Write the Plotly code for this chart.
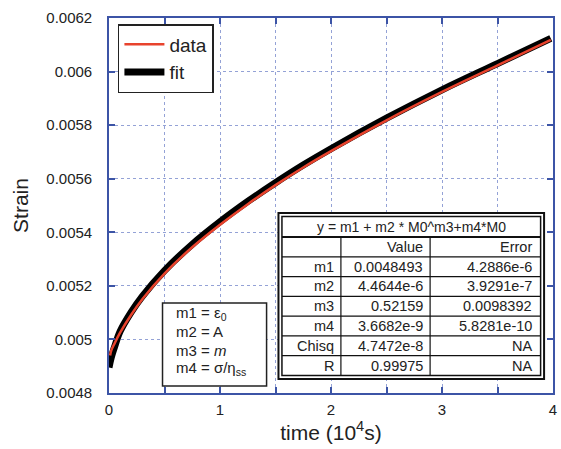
import plotly.graph_objects as go

# ---------------- data ----------------
time_data = [0.01, 0.02, 0.05, 0.1, 0.2, 0.3, 0.5, 0.75, 1.0, 1.25, 1.5, 1.75, 2.0, 2.5, 3.0, 3.5, 3.98]
strain_data = [0.004940, 0.004958, 0.004985, 0.005025, 0.005092, 0.005150, 0.005246, 0.005344,
               0.005428, 0.005505, 0.005576, 0.005642, 0.005703, 0.005818, 0.005924, 0.006023, 0.006118]

time_fit = [0.0, 0.02, 0.05, 0.1, 0.2, 0.3, 0.5, 0.75, 1.0, 1.25, 1.5, 1.75, 2.0, 2.5, 3.0, 3.5, 3.98]
strain_fit = [0.004895, 0.004932, 0.004972, 0.005030, 0.005102, 0.005161, 0.005257, 0.005355,
              0.005439, 0.005515, 0.005585, 0.005651, 0.005712, 0.005826, 0.005932, 0.006030, 0.006124]

x_tickvals = [0, 1, 2, 3, 4]
x_ticktext = ["0", "1", "2", "3", "4"]
y_tickvals = [0.0048, 0.0050, 0.0052, 0.0054, 0.0056, 0.0058, 0.0060, 0.0062]
y_ticktext = ["0.0048", "0.005", "0.0052", "0.0054", "0.0056", "0.0058", "0.006", "0.0062"]

table_title = "y = m1 + m2 * M0^m3+m4*M0"
table_columns = ["", "Value", "Error"]
table_rows = ["m1", "m2", "m3", "m4", "Chisq", "R"]
table_values = ["0.0048493", "4.4644e-6", "0.52159", "3.6682e-9", "4.7472e-8", "0.99975"]
table_errors = ["4.2886e-6", "3.9291e-7", "0.0098392", "5.8281e-10", "NA", "NA"]

param_lines = ["m1 = ε<sub>0</sub>", "m2 = A", "m3 = <i>m</i>", "m4 = σ/η<sub>ss</sub>"]

# ---------------- layout geometry (pixels) ----------------
W, H = 561, 449
L, R, T, B = 109, 557, 18, 393


def px(x):
    return (x - L) / (R - L)


def py(y):
    return (B - y) / (B - T)


FONT = "Liberation Sans, Arial, Helvetica, sans-serif"
AXIS_BLUE = "#3c54a6"
GRID = "#94a2d6"
TXT = "#222222"

fig = go.Figure()
fig.add_trace(go.Scatter(x=time_fit, y=strain_fit, mode="lines", name="fit",
                         line=dict(color="#000000", width=7, shape="spline"),
                         legendrank=2))
fig.add_trace(go.Scatter(x=time_data, y=strain_data, mode="lines", name="data",
                         line=dict(color="#e8432d", width=2.5, shape="spline"),
                         legendrank=1))

axis_common = dict(showline=True, linecolor=AXIS_BLUE, linewidth=1.6, mirror="ticks",
                   ticks="inside", ticklen=6, tickwidth=1.5, tickcolor=AXIS_BLUE,
                   showgrid=True, gridcolor=GRID, griddash="dot", gridwidth=1,
                   zeroline=False, tickfont=dict(family=FONT, size=15, color=TXT))

fig.update_xaxes(range=[0, 4], tickmode="array", tickvals=x_tickvals, ticktext=x_ticktext,
                 minor=dict(dtick=0.5, ticks="inside", ticklen=6, tickwidth=1.5, tickcolor=AXIS_BLUE,
                            showgrid=True, gridcolor=GRID, griddash="dot", gridwidth=1),
                 title=dict(text="time (10<sup>4</sup>s)", font=dict(family=FONT, size=21, color=TXT),
                            standoff=4),
                 ticklabelstandoff=2, **axis_common)
fig.update_yaxes(range=[0.0048, 0.0062], tickmode="array", tickvals=y_tickvals, ticktext=y_ticktext,
                 title=dict(text="Strain", font=dict(family=FONT, size=21, color=TXT), standoff=12),
                 ticklabelstandoff=12, **axis_common)

shapes = []
annotations = []

# ---- parameter box ----
bx0, by0, bx1, by1 = 163, 303, 268, 386
shapes.append(dict(type="rect", xref="paper", yref="paper", x0=px(bx0), x1=px(bx1), y0=py(by1), y1=py(by0),
                   line=dict(color="#222222", width=1.5), fillcolor="white"))
for i, t in enumerate(param_lines):
    annotations.append(dict(xref="paper", yref="paper", x=px(175), y=py(313 + i * 18.5), text=t,
                            showarrow=False, xanchor="left", yanchor="middle",
                            font=dict(family=FONT, size=15, color=TXT)))

# ---- fit table ----
ox0, oy0, ox1, oy1 = 280, 213, 548, 379
ix0, iy0, ix1, iy1 = 283.5, 216.5, 544.5, 375.5
shapes.append(dict(type="rect", xref="paper", yref="paper", x0=px(ox0), x1=px(ox1), y0=py(oy1), y1=py(oy0),
                   line=dict(color="#111111", width=2), fillcolor="white"))
shapes.append(dict(type="rect", xref="paper", yref="paper", x0=px(ix0), x1=px(ix1), y0=py(iy1), y1=py(iy0),
                   line=dict(color="#111111", width=1.5), fillcolor="white"))
head_bottom = 237
nrows = len(table_rows) + 1
row_h = (iy1 - head_bottom) / nrows
shapes.append(dict(type="line", xref="paper", yref="paper", x0=px(ix0), x1=px(ix1),
                   y0=py(head_bottom), y1=py(head_bottom), line=dict(color="#111111", width=2)))
for k in range(1, nrows):
    yy = head_bottom + k * row_h
    shapes.append(dict(type="line", xref="paper", yref="paper", x0=px(ix0), x1=px(ix1),
                       y0=py(yy), y1=py(yy), line=dict(color="#111111", width=1.2)))
col_edges = [343, 433]
for cx in col_edges:
    shapes.append(dict(type="line", xref="paper", yref="paper", x0=px(cx), x1=px(cx),
                       y0=py(head_bottom), y1=py(iy1), line=dict(color="#111111", width=1.2)))

annotations.append(dict(xref="paper", yref="paper", x=px((ix0 + ix1) / 2), y=py((iy0 + head_bottom) / 2),
                        text=table_title, showarrow=False, xanchor="center", yanchor="middle",
                        font=dict(family=FONT, size=14, color=TXT)))
col_right = [338, 428, 538]
rows_text = [table_columns] + [[r, v, e] for r, v, e in zip(table_rows, table_values, table_errors)]
for ri, row in enumerate(rows_text):
    yc = head_bottom + (ri + 0.5) * row_h
    for ci, cell in enumerate(row):
        if cell:
            annotations.append(dict(xref="paper", yref="paper", x=px(col_right[ci]), y=py(yc),
                                    text=cell, showarrow=False, xanchor="right", yanchor="middle",
                                    font=dict(family=FONT, size=14.5, color=TXT)))

fig.update_layout(
    width=W, height=H,
    margin=dict(l=L, r=W - R, t=T, b=H - B, pad=0),
    plot_bgcolor="white", paper_bgcolor="white",
    font=dict(family=FONT, color=TXT),
    shapes=shapes, annotations=annotations,
    legend=dict(x=px(118), y=py(24), xanchor="left", yanchor="top",
                bgcolor="white", bordercolor="#222222", borderwidth=1.5,
                font=dict(family=FONT, size=19, color=TXT), itemwidth=40,
                tracegroupgap=0),
    showlegend=True,
)

fig.write_html("out.html")
